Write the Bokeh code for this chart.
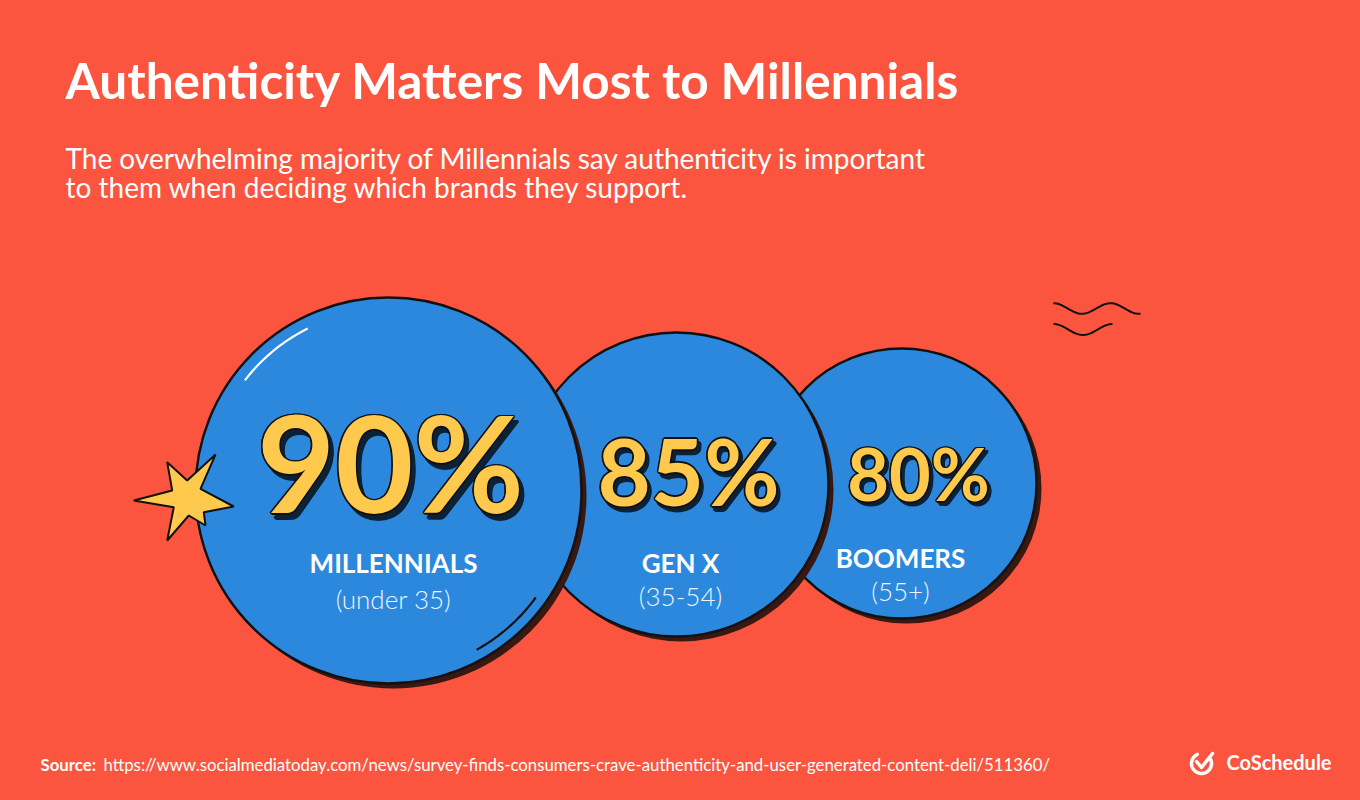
import numpy as np
from bokeh.plotting import figure
from bokeh.models import Range1d, ColumnDataSource
from bokeh.core.properties import value
from bokeh.embed import file_html
from bokeh.resources import INLINE

# ---------------- data ----------------
groups = ["MILLENNIALS", "GEN X", "BOOMERS"]
ages = ["(under 35)", "(35-54)", "(55+)"]
shares = [90, 85, 80]

title_text = "Authenticity Matters Most to Millennials"
subtitle_lines = [
    "The overwhelming majority of Millennials say authenticity is important",
    "to them when deciding which brands they support.",
]
source_label = "Source:"
source_url = ("https://www.socialmediatoday.com/news/survey-finds-consumers-crave-"
              "authenticity-and-user-generated-content-deli/511360/")
brand = "CoSchedule"

# ---------------- layout (pixel space of the page) ----------------
circ_x = [388, 676, 901]
circ_y = [490, 484, 483]
circ_r = [193, 152, 135]
num_x = [390, 688, 918]
num_base = [512, 505, 500]
num_px = [135, 92, 72]
shadow_off = [(4, 5), (3, 4), (3, 3)]
lab_x = [393, 680, 900]
lab_base = [572, 572, 567]
age_base = [608, 605, 600]

BG = "#FB553F"
BLUE = "#2B88DD"
YELLOW = "#FFC94D"
DARK = "#3A1812"
NAVY = "#0D2236"
INK = "#111111"
FONT = "Lato"
BASE_K = 0.38  # renderer places alphabetic baseline ~0.38em below y; compensate


def by(base, px):
    return base - BASE_K * px


W, H = 1344, 784
p = figure(width=W, height=H, x_range=Range1d(0, W), y_range=Range1d(H, 0),
           output_backend="svg", toolbar_location=None, min_border=0,
           background_fill_color=BG, border_fill_color=BG, outline_line_color=None)
p.axis.visible = False
p.grid.visible = False

# decorations: wavy lines
xs1 = np.linspace(1053, 1140, 60)
p.line(xs1, 308 - 5.3 * np.cos(2 * np.pi * (xs1 - 1053) / 57), line_color=INK, line_width=2)
xs2 = np.linspace(1053, 1112, 40)
p.line(xs2, 329 - 5.5 * np.cos(2 * np.pi * (xs2 - 1053) / 59), line_color=INK, line_width=2)

# circles (back to front: boomers, gen x, millennials)
for i in [2, 1, 0]:
    p.circle(x=[circ_x[i] + 5], y=[circ_y[i] + 5], radius=circ_r[i],
             fill_color=DARK, line_color=None)
    p.circle(x=[circ_x[i]], y=[circ_y[i]], radius=circ_r[i],
             fill_color=BLUE, line_color=INK, line_width=2.4)

# highlight arcs on the big circle
t = np.radians(np.linspace(-142.5, -116.5, 30))
p.line(circ_x[0] + 181 * np.cos(t), circ_y[0] + 181 * np.sin(t), line_color="white", line_width=2.2)
t = np.radians(np.linspace(36, 61, 30))
p.line(circ_x[0] + 182 * np.cos(t), circ_y[0] + 182 * np.sin(t), line_color=INK, line_width=2.2)

# star
star_x = [166.7, 186.7, 215, 200, 233.3, 203.3, 205, 188.3, 166.7, 173.3, 133.3, 171.7]
star_y = [461.7, 480, 454, 488.3, 506, 511.7, 525, 515, 540, 506.7, 500, 490]
p.patch(star_x, star_y, fill_color=YELLOW, line_color=INK, line_width=2)

# big numbers with outline + drop shadow
num_text = [f"{v}%" for v in shares]
ring = [(1.6 * np.cos(a), 1.6 * np.sin(a)) for a in np.radians(np.arange(0, 360, 45))]


def draw_numbers(dx_list, dy_list, color):
    src = ColumnDataSource(dict(x=[num_x[i] + dx_list[i] for i in range(3)],
                                y=[by(num_base[i], num_px[i]) + dy_list[i] for i in range(3)],
                                t=num_text,
                                fs=[f"{s}px" for s in num_px]))
    p.text(x="x", y="y", text="t", source=src, text_font=value(FONT), text_font_style="bold",
           text_font_size="fs", text_color=color, text_align="center", text_baseline="alphabetic")


for (rx, ry) in ring:
    draw_numbers([shadow_off[i][0] + rx for i in range(3)],
                 [shadow_off[i][1] + ry for i in range(3)], NAVY)
for (rx, ry) in ring:
    draw_numbers([rx] * 3, [ry] * 3, INK)
draw_numbers([0] * 3, [0] * 3, YELLOW)

# group labels
p.text(x=lab_x, y=[by(b, 26) for b in lab_base], text=groups, text_font=value(FONT),
       text_font_style="bold", text_font_size="26px", text_color="white",
       text_align="center", text_baseline="alphabetic")
p.text(x=lab_x, y=[by(b, 26) for b in age_base], text=ages, text_font=value("'Lato Light', Lato"),
       text_font_style="normal", text_font_size="26px", text_color="#EEF4FC",
       text_align="center", text_baseline="alphabetic")

# title and subtitle
p.text(x=[65], y=[by(98, 49.5)], text=[title_text], text_font=value(FONT), text_font_style="bold",
       text_font_size="49.5px", text_color="white", text_align="left", text_baseline="alphabetic")
p.text(x=[65, 65], y=[by(168, 28), by(197, 28)], text=subtitle_lines, text_font=value(FONT),
       text_font_size="28px", text_color="white", text_align="left", text_baseline="alphabetic")

# source line
p.text(x=[40], y=[by(770, 16.8)], text=[source_label], text_font=value(FONT), text_font_style="bold",
       text_font_size="16.8px", text_color="white", text_align="left", text_baseline="alphabetic")
p.text(x=[103], y=[by(770, 16.8)], text=[source_url], text_font=value(FONT),
       text_font_size="16.8px", text_color="white", text_align="left", text_baseline="alphabetic")

# brand logo
t = np.radians(np.linspace(-25, 245, 50))
p.line(1201 + 10 * np.cos(t), 763 + 10 * np.sin(t), line_color="white", line_width=3.5, line_cap="round")
p.line([1196, 1201, 1212], [761, 767, 753], line_color="white", line_width=3.5,
       line_cap="round", line_join="round")
p.text(x=[1226], y=[by(769, 20)], text=[brand], text_font=value(FONT), text_font_style="bold",
       text_font_size="20px", text_color="white", text_align="left", text_baseline="alphabetic")

html = file_html(p, INLINE)
html = html.replace("</head>", f"<style>html,body{{background:{BG};}}</style></head>", 1)
open("out.html", "w").write(html)
